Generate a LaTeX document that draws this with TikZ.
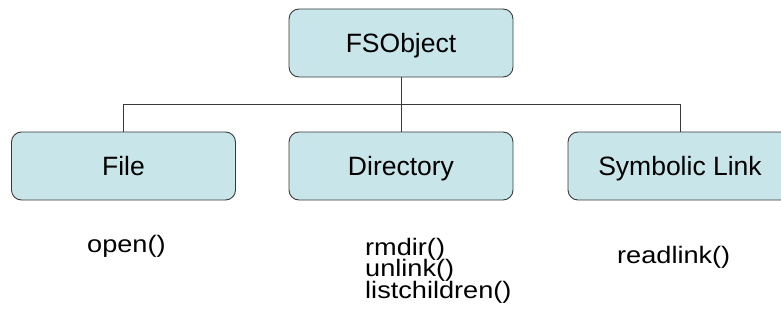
\documentclass[tikz,border=0pt]{standalone}
\usepackage{fontspec}
\setmainfont{Liberation Sans}
\newfontfamily\methfont{Liberation Sans}[FakeStretch=1.14]
\definecolor{boxfill}{HTML}{C8E6E9}
\definecolor{edge}{HTML}{3A3A3A}
\begin{document}
\begin{tikzpicture}[x=1pt,y=-1pt,
  classbox/.style={draw=edge, line width=0.9pt, fill=boxfill, rounded corners=10pt,
    minimum width=224pt, minimum height=68pt, inner sep=0pt,
    text height=19pt, text depth=0pt,
    font=\fontsize{26.5}{26.5}\selectfont},
  meth/.style={inner sep=0pt, anchor=base west, font=\methfont\fontsize{23.8}{23.8}\selectfont},
  conn/.style={draw=edge, line width=0.9pt}]
\useasboundingbox (0,0) rectangle (781,329);
\node[classbox] (fs) at (401,43) {FSObject};
\node[classbox] (file) at (123.5,166) {File};
\node[classbox] (dir) at (401,166) {Directory};
\node[classbox] (sym) at (680,166) {Symbolic Link};
\coordinate (busL) at (123.5,104);
\coordinate (busR) at (680,104);
\draw[conn] (fs.south) -- (dir.north);
\draw[conn] (file.north) -- (busL) -- (busR) -- (sym.north);
\node[meth] (open) at (87,252) {open()};
\node[meth] (m1) at (365,255) {rmdir()};
\node[meth] (m2) at (365,276.7) {unlink()};
\node[meth] (m3) at (365,298.4) {listchildren()};
\node[meth] (rl) at (617,263) {readlink()};
\end{tikzpicture}
\end{document}
